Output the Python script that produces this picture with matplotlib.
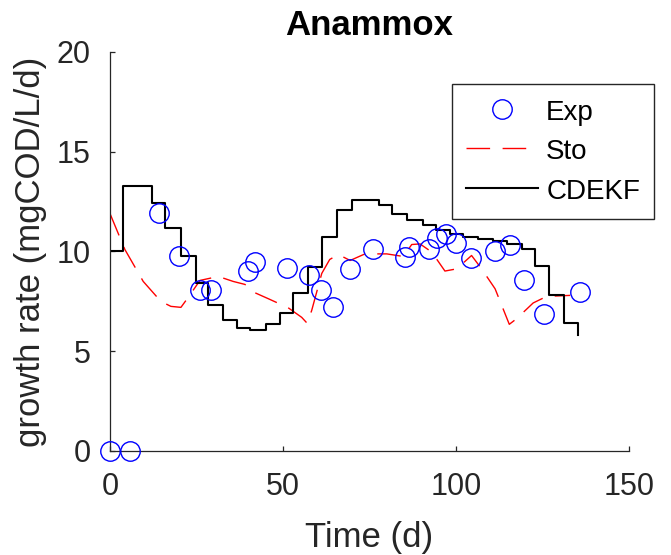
import matplotlib
matplotlib.use("Agg")
import matplotlib.pyplot as plt

plt.rcParams['font.family'] = ['Liberation Sans', 'DejaVu Sans']

# Experimental data
exp_t = [0, 5.8, 14.2, 20, 26, 29.2, 39.9, 41.9, 51.2, 57.5, 61, 64.5, 69.4, 76,
         85.3, 86.4, 92.2, 94.5, 97.1, 100, 104.3, 111.3, 115.6, 119.7, 125.4, 135.8]
exp_y = [0, 0, 11.95, 9.75, 8.05, 8.05, 9.0, 9.45, 9.15, 8.8, 8.05, 7.2, 9.1, 10.15,
         9.7, 10.25, 10.15, 10.7, 10.9, 10.45, 9.65, 10.0, 10.35, 8.55, 6.85, 7.95]

# Sto model
sto_t = [0, 4.3, 9.6, 14.7, 17.6, 20.5, 22.6, 26, 31.3, 35.6, 39, 41.4, 45.8, 51.5,
         55.4, 57, 58.3, 61.2, 63.5, 66, 69.4, 73.7, 80, 84.8, 87.2, 89.6, 93, 96.8,
         100.2, 104.5, 107.4, 111.3, 115.4, 117.5, 122.3, 126.2, 133]
sto_y = [11.9, 10.1, 8.5, 7.5, 7.25, 7.2, 7.7, 8.55, 8.75, 8.5, 8.35, 7.97, 7.63, 7.18,
         6.7, 6.4, 7.05, 8.9, 9.6, 9.85, 9.55, 9.88, 9.88, 9.75, 10.35, 10.38, 9.97, 9.02,
         9.13, 9.8, 9.13, 8.13, 6.35, 6.63, 7.42, 7.75, 7.8]

# CDEKF (stairs)
cd_t = [0, 3.85, 12, 15.9, 20.5, 24.8, 28.4, 32.6, 36.6, 40.6, 45.1, 49.1, 53, 57.1,
        61.2, 65.7, 69.8, 77.7, 81.6, 85.7, 90.4, 94.2, 98.3, 102.1, 106.5, 110.8,
        114.6, 119, 122.8, 127, 131.3, 135.3]
cd_y = [10.05, 13.3, 12.45, 11.2, 9.75, 8.4, 7.3, 6.55, 6.17, 6.05, 6.35, 6.9, 7.9, 9.2,
        10.75, 12.1, 12.6, 12.33, 11.88, 11.6, 11.33, 11.1, 10.88, 10.75, 10.63, 10.52,
        10.38, 10.13, 9.25, 7.8, 6.42, 5.8]

x_ticks = [0, 50, 100, 150]
y_ticks = [0, 5, 10, 15, 20]

fig = plt.figure(figsize=(6.71, 5.55), dpi=100)
ax = fig.add_axes([110/671, 1 - 451/555, (629-110)/671, (451-52)/555])

ax.plot(exp_t, exp_y, linestyle='none', marker='o', markersize=14, markerfacecolor='none',
        markeredgecolor='blue', markeredgewidth=1.0, label='Exp', clip_on=False, zorder=3)
ax.plot(sto_t, sto_y, color='red', linewidth=1.0, dashes=(17, 9), label='Sto', zorder=2)
ax.step(cd_t, cd_y, where='post', color='black', linewidth=1.5, label='CDEKF', zorder=2.5)

ax.set_xlim(0, 150)
ax.set_ylim(0, 20)
ax.set_xticks(x_ticks)
ax.set_yticks(y_ticks)
for s in ['top', 'right']:
    ax.spines[s].set_visible(False)
for s in ['left', 'bottom']:
    ax.spines[s].set_color('#262626')
    ax.spines[s].set_linewidth(0.9)
ax.tick_params(direction='in', length=3.5, width=0.9, colors='#262626', labelsize=22)
ax.tick_params(axis='y', pad=14)
ax.tick_params(axis='x', pad=15)

ax.set_xlabel('Time (d)', fontsize=25, color='#262626', labelpad=14)
ax.set_ylabel('growth rate (mgCOD/L/d)', fontsize=25, color='#262626', labelpad=7)
ax.set_title('Anammox', fontsize=25, fontweight='bold', pad=12)

leg = ax.legend(loc='upper right', bbox_to_anchor=(654/671, 1 - 84/555),
                bbox_transform=fig.transFigure, fontsize=20, frameon=True,
                fancybox=False, framealpha=1, edgecolor='#262626',
                handlelength=2.6, handleheight=1.0, handletextpad=0.3, borderpad=0.5,
                labelspacing=0.42, borderaxespad=0)
leg.get_frame().set_linewidth(1.0)

fig.savefig('out.png', dpi=100)
